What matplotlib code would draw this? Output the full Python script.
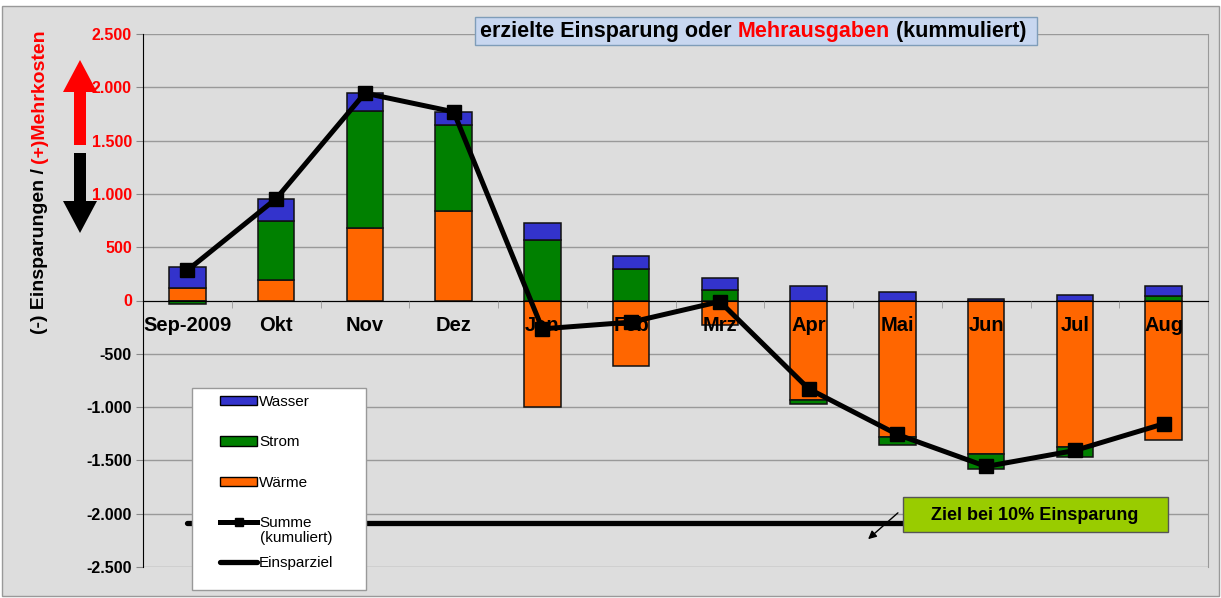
import matplotlib
matplotlib.use("Agg")
import matplotlib.pyplot as plt
import numpy as np
from matplotlib.patches import Rectangle, Polygon, Patch
from matplotlib.lines import Line2D
from matplotlib.text import Annotation

plt.rcParams['font.family'] = ['Liberation Sans', 'DejaVu Sans']

# cumulated savings (-) / extra costs (+) per month
months = ['Sep-2009', 'Okt', 'Nov', 'Dez', 'Jan', 'Feb', 'Mrz',
          'Apr', 'Mai', 'Jun', 'Jul', 'Aug']
waerme = [120, 188, 682, 835, -1000, -619, -232, -938, -1282, -1438, -1370, -1304]
strom = [-35, 562, 1094, 816, 572, 291, 94, -37, -69, -141, -100, 44]
wasser = [195, 205, 169, 116, 153, 122, 119, 138, 84, 10, 56, 94]
summe = [283, 955, 1945, 1770, -266, -203, -10, -828, -1257, -1557, -1407, -1157]
einsparziel = [-2083] * 12

series = [('Wärme', waerme, '#FF6600'),
          ('Strom', strom, '#008000'),
          ('Wasser', wasser, '#3333CC')]

W, H = 1221, 598
def fx(x):
    return x / W
def fy(y):
    return 1 - y / H

fig = plt.figure(figsize=(12.21, 5.98), dpi=100)
fig.patch.set_facecolor('white')
fig.patches.append(Rectangle((fx(2), fy(596)), fx(1217), 590 / H, transform=fig.transFigure,
                             facecolor='#DDDDDD', edgecolor='#999999', lw=1, zorder=-10))

ax = fig.add_axes([fx(143), fy(567), fx(1208) - fx(143), (567 - 34) / H])
ax.set_facecolor('#DDDDDD')
ax.spines['bottom'].set_position(('data', 0))
ax.spines['bottom'].set_color('black')
ax.spines['top'].set_visible(False)
ax.spines['left'].set_color('black')
ax.spines['right'].set_color('#999999')

x = np.arange(len(months))
pos_bottom = np.zeros(len(months))
neg_bottom = np.zeros(len(months))
for name, vals, col in series:
    v = np.array(vals, dtype=float)
    bottom = np.where(v >= 0, pos_bottom, neg_bottom)
    ax.bar(x, v, 0.41, bottom=bottom, color=col, edgecolor='#111111', lw=1.1, zorder=1)
    pos_bottom += np.where(v >= 0, v, 0)
    neg_bottom += np.where(v < 0, v, 0)

ax.plot(x, summe, color='black', lw=3.6, marker='s', markersize=9.5, zorder=4)
ax.plot(x, einsparziel, color='black', lw=3.8, solid_capstyle='round', zorder=4)

ax.set_xlim(-0.5, 11.5)
ax.set_ylim(-2500, 2500)
yt = np.arange(-2500, 2501, 500)
ax.set_yticks(yt)
ax.set_yticklabels([f'{v:,}'.replace(',', '.') for v in yt], fontweight='bold', fontsize=11.5)
for lab, v in zip(ax.get_yticklabels(), yt):
    lab.set_color('#FF0000' if v >= 0 else 'black')
ax.tick_params(axis='y', length=5, color='#888888', pad=3)

ax.set_axisbelow(True)
ax.yaxis.grid(True, color='#999999', lw=1)
ax.set_xticks(x[:-1] + 0.5, minor=True)
ax.set_xticks(x)
ax.set_xticklabels(months)
ax.tick_params(axis='x', which='major', length=0, pad=11)
ax.tick_params(axis='x', which='minor', length=5, color='#999999', direction='out')
for lab in ax.get_xticklabels():
    lab.set_fontweight('bold')
    lab.set_fontsize(14.5)
ax.xaxis.set_zorder(3)

# y label in two colours
t1 = fig.text(fx(40), fy(334), '(-) Einsparungen / ', rotation=90, ha='center', va='bottom',
              fontsize=14, fontweight='bold', color='black')
fig.add_artist(Annotation('(+)Mehrkosten', xy=(0, 1), xycoords=t1, rotation=90, ha='left',
                          va='bottom', fontsize=14, fontweight='bold', color='#FF0000'))

# up / down arrows
def arrow(tip, base_head, shaft_end, col):
    cx = 80
    pts = [(cx, tip), (cx + 17, base_head), (cx + 6, base_head), (cx + 6, shaft_end),
           (cx - 6, shaft_end), (cx - 6, base_head), (cx - 17, base_head)]
    fig.patches.append(Polygon([(fx(a), fy(b)) for a, b in pts], closed=True,
                               transform=fig.transFigure, facecolor=col, edgecolor='none'))
arrow(60, 92, 145, '#FF0000')
arrow(233, 201, 153, 'black')

# title box
fig.patches.append(Rectangle((fx(475), fy(45)), fx(1037) - fx(475), 28 / H, transform=fig.transFigure,
                             facecolor='#C8D7F0', edgecolor='#7F9DB9', lw=1, zorder=5))
tt = fig.text(fx(480), fy(31), 'erzielte Einsparung oder ', ha='left', va='center',
              fontsize=15.5, fontweight='bold', zorder=6)
a2 = Annotation('Mehrausgaben', xy=(1, 0), xycoords=tt, ha='left', va='bottom',
                fontsize=15.5, fontweight='bold', color='#FF0000', zorder=6)
fig.add_artist(a2)
fig.add_artist(Annotation(' (kummuliert)', xy=(1, 0), xycoords=a2, ha='left', va='bottom',
                          fontsize=15.5, fontweight='bold', color='black', zorder=6))

# legend
fig.patches.append(Rectangle((fx(192), fy(590)), fx(366) - fx(192), (590 - 388) / H,
                             transform=fig.transFigure, facecolor='white', edgecolor='#999999',
                             lw=1, zorder=5))
handles = [Patch(facecolor='#3333CC', edgecolor='black', lw=1),
           Patch(facecolor='#008000', edgecolor='black', lw=1),
           Patch(facecolor='#FF6600', edgecolor='black', lw=1),
           Line2D([], [], color='black', lw=3.6, marker='s', markersize=6),
           Line2D([], [], color='black', lw=3.8, solid_capstyle='round')]
labels = ['Wasser', 'Strom', 'Wärme', 'Summe', 'Einsparziel']
leg = fig.legend(handles, labels, loc='upper left', bbox_to_anchor=(fx(208), fy(383)),
                 frameon=False, fontsize=11, handlelength=2.4, handleheight=0.55,
                 handletextpad=0.15, labelspacing=1.72, borderpad=0.3)
leg.set_zorder(6)
fig.text(fx(260), fy(538), '(kumuliert)', fontsize=11, va='center', ha='left', zorder=7)

# target annotation
fig.patches.append(Rectangle((fx(903), fy(532)), fx(1168) - fx(903), 35 / H,
                             transform=fig.transFigure, facecolor='#99CC00',
                             edgecolor='#555555', lw=1, zorder=8))
fig.text(fx(1035), fy(515), 'Ziel bei 10% Einsparung', ha='center', va='center',
         fontsize=13, fontweight='bold', zorder=9)
fig.add_artist(Annotation('', xy=(fx(866), fy(541)), xycoords='figure fraction',
                          xytext=(fx(900), fy(511)), textcoords='figure fraction',
                          arrowprops=dict(arrowstyle='-|>', color='black', lw=1,
                                          mutation_scale=12), zorder=9))

fig.savefig('out.png', dpi=100, facecolor=fig.get_facecolor())
